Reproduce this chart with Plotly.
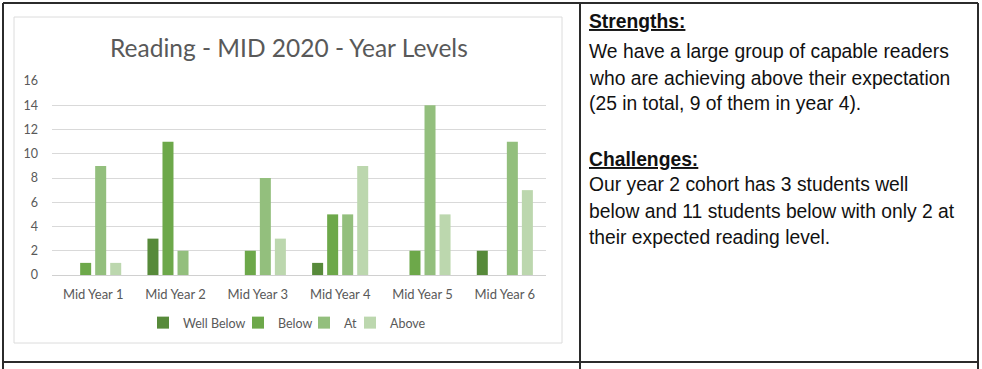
import plotly.graph_objects as go

W, H = 982, 369

categories = ["Mid Year 1", "Mid Year 2", "Mid Year 3", "Mid Year 4", "Mid Year 5", "Mid Year 6"]
well_below = [0, 3, 0, 1, 0, 2]
below = [1, 11, 2, 5, 2, 0]
at_level = [9, 2, 8, 5, 14, 11]
above = [1, 0, 3, 9, 5, 7]
series_names = ["Well Below", "Below", "At", "Above"]
series_colors = ["#578a3a", "#6da84a", "#93bf7d", "#bcd7ae"]
y_ticks = [0, 2, 4, 6, 8, 10, 12, 14, 16]

chart_title = "Reading - MID 2020 - Year Levels"
strengths_head = "Strengths:"
strengths_lines = [
    "We have a large group of capable readers",
    "who are achieving above their expectation",
    "(25 in total, 9 of them in year 4).",
]
challenges_head = "Challenges:"
challenges_lines = [
    "Our year 2 cohort has 3 students well",
    "below and 11 students below with only 2 at",
    "their expected reading level.",
]


def px(x):
    return x / W


def py(y):
    return 1 - y / H


gray = "#595959"
legend_ids = ["legend", "legend2", "legend3", "legend4"]
legend_left = [143, 238, 304, 350]

fig = go.Figure()
for name, vals, col, lid in zip(series_names, [well_below, below, at_level, above], series_colors, legend_ids):
    fig.add_trace(go.Bar(x=categories, y=vals, name=name, legend=lid,
                         marker=dict(color=col, line=dict(width=0))))

layout_legends = {}
for lid, lx in zip(legend_ids, legend_left):
    layout_legends[lid] = dict(orientation="h", x=px(lx), xanchor="left", y=py(323), yanchor="middle",
                               font=dict(size=12.5, color=gray, family="Lato, sans-serif"),
                               itemwidth=30, bgcolor="rgba(0,0,0,0)", borderwidth=0)

fig.update_layout(
    width=W, height=H,
    margin=dict(l=0, r=0, t=0, b=0, autoexpand=False),
    paper_bgcolor="white", plot_bgcolor="white",
    barmode="group", bargap=0.27, bargroupgap=0.267,
    font=dict(family="Lato, 'Open Sans', sans-serif", color=gray, size=12),
    showlegend=True,
    xaxis=dict(domain=[px(52), px(546)], showgrid=False, showline=False, ticks="",
               tickfont=dict(size=13, color=gray), ticklabelstandoff=10),
    yaxis=dict(domain=[py(275), py(81)], range=[0, 16], tickvals=y_ticks,
               showgrid=True, gridcolor="#d9d9d9", gridwidth=1,
               zeroline=True, zerolinecolor="#d0d0d0", zerolinewidth=1,
               showline=False, ticks="", tickfont=dict(size=12.5, color=gray),
               ticklabelstandoff=13),
    **layout_legends,
)

shapes = []
# chart image frame
shapes.append(dict(type="rect", xref="paper", yref="paper", x0=px(14), x1=px(562), y0=py(343), y1=py(17),
                   line=dict(color="#dcdcdc", width=1), fillcolor="rgba(0,0,0,0)", layer="below"))
# table borders
bc = "#2b2b2b"
for (x0, y0, x1, y1) in [(3, 3, 978, 3), (3, 3, 3, 369), (580, 3, 580, 369), (978, 3, 978, 369), (3, 362, 978, 362)]:
    shapes.append(dict(type="line", xref="paper", yref="paper", x0=px(x0), x1=px(x1), y0=py(y0), y1=py(y1),
                       line=dict(color=bc, width=2)))
fig.update_layout(shapes=shapes)

ann = []
ann.append(dict(text=chart_title, xref="paper", yref="paper", x=px(289), y=py(47), xanchor="center",
                yanchor="middle", showarrow=False, font=dict(family="Lato, sans-serif", size=24.5, color=gray)))

tfont = dict(family="'Liberation Sans', Arial, sans-serif", size=19.3, color="#111111")
rows = [(22, "<b><u>" + strengths_head + "</u></b>")]
rows += [(52 + 26 * i, t) for i, t in enumerate(strengths_lines)]
rows += [(159, "<b><u>" + challenges_head + "</u></b>")]
rows += [(185 + 26 * i, t) for i, t in enumerate(challenges_lines)]
for y, t in rows:
    ann.append(dict(text=t, xref="paper", yref="paper", x=px(587), y=py(y), xanchor="left", yanchor="middle",
                    showarrow=False, font=tfont))
fig.update_layout(annotations=ann)

fig.write_html("out.html", config={"displayModeBar": False},
               post_script="document.body.style.margin='0';document.body.style.overflow='hidden';")
